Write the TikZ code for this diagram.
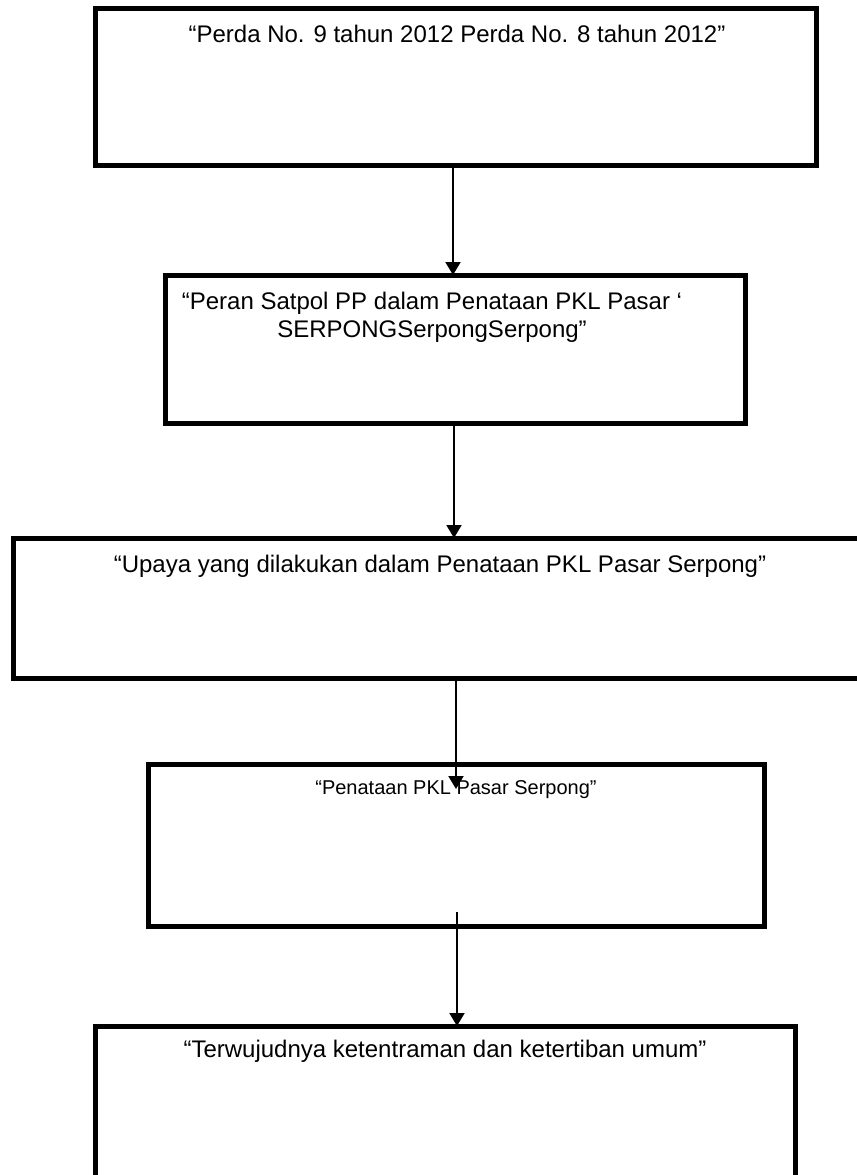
\documentclass[tikz,border=0pt]{standalone}
\usepackage{fontspec}
\setmainfont{Liberation Sans}
\usetikzlibrary{arrows.meta, positioning}

\tikzset{
	box/.style={draw, line width=2.5pt, inner sep=0pt, outer sep=0pt},
	lbl/.style={anchor=north, inner sep=0pt, align=center, font=\fontsize{12}{13.8}\selectfont},
	lblsmall/.style={lbl, font=\fontsize{10}{11.5}\selectfont},
	arr/.style={-{Triangle[width=7.5pt,length=6.5pt]}, line width=1pt}
}

\begin{document}
\begin{tikzpicture}[x=1pt, y=-1pt]
	\useasboundingbox (0,0) rectangle (428.5,587.5);
	\clip (0,0) rectangle (428.5,587.5);
	\node[box, minimum width=360.5pt, minimum height=78.5pt] (perda) at (227.75,43.25) {};
	\node[box, minimum width=290pt, minimum height=74pt] (peran) at (227.5,174.5) {};
	\node[box, minimum width=427pt, minimum height=70pt] (upaya) at (220,304) {};
	\node[box, minimum width=308pt, minimum height=81pt] (penataan) at (228,422.5) {};
	\node[box, minimum width=350pt, minimum height=87pt] (wujud) at (222.5,556.5) {};
	\node[lbl] (perdatxt) at (228.5,12.5) {“Perda No. 9 tahun 2012 Perda No. 8 tahun 2012”};
	\node[lbl] (perantxt) at (216,146) {“Peran Satpol PP dalam Penataan PKL Pasar ‘\\SERPONGSerpongSerpong”};
	\node[lbl] (upayatxt) at (220,277.5) {“Upaya yang dilakukan dalam Penataan PKL Pasar Serpong”};
	\node[lblsmall] (penataantxt) at (228,390) {“Penataan PKL Pasar Serpong”};
	\node[lbl] (wujudtxt) at (222.5,520) {“Terwujudnya ketentraman dan ketertiban umum”};
	\coordinate (a1) at (226.5,82.5);
	\coordinate (a2) at (227,211.5);
	\coordinate (a3) at (228,339);
	\coordinate (t3) at (228,394.5);
	\coordinate (a4) at (228.5,456);
	\draw[arr] (a1) -- (a1 |- peran.north);
	\draw[arr] (a2) -- (a2 |- upaya.north);
	\draw[arr] (a3) -- (t3);
	\draw[arr] (a4) -- (a4 |- wujud.north);
\end{tikzpicture}
\end{document}
